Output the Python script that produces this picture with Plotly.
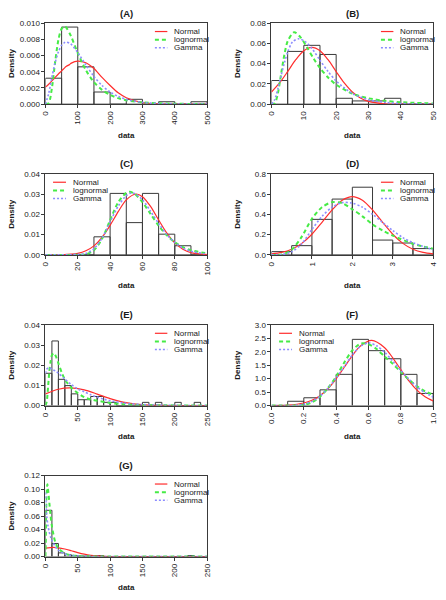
import plotly.graph_objects as go

# ---------------- DATA ----------------
# Panel A
A_bin_left = [0, 50, 100, 150, 200, 250, 300, 350, 400, 450]
A_density = [0.0032, 0.0095, 0.0046, 0.0015, 0.0, 0.0006, 0.0, 0.0003, 0.0, 0.0003]
A_x = [0, 10, 20, 30, 40, 50, 60, 65, 75, 80, 100, 125, 150, 175, 200, 225, 250, 300, 350, 400, 450, 500]
A_norm = [0.0021, 0.00246, 0.00287, 0.0033, 0.00372, 0.0041, 0.0045, 0.00466, 0.0049, 0.00506, 0.0053,
          0.0051, 0.0044, 0.0033, 0.0023, 0.0014, 0.0008, 0.0002, 0.00004, 0.000005, 0.0, 0.0]
A_lnorm = [0.0, 0.00013, 0.002, 0.0052, 0.0079, 0.0093, 0.0096, 0.0094, 0.0087, 0.0083, 0.0063,
           0.0042, 0.0027, 0.00176, 0.00114, 0.00074, 0.00049, 0.00022, 0.000108, 0.000054, 0.00003, 0.000015]
A_gamma = [0.0, 0.00132, 0.00333, 0.00513, 0.00644, 0.00725, 0.00761, 0.00765, 0.0075, 0.00736, 0.00637,
           0.00483, 0.00342, 0.0023, 0.0015, 0.00095, 0.00059, 0.00022, 0.000075, 0.000025, 0.000008, 0.000003]
A_xticks = [0, 100, 200, 300, 400, 500]
A_yticks = [0.000, 0.002, 0.004, 0.006, 0.008, 0.010]

# Panel B
B_bin_left = [0, 5, 10, 15, 20, 25, 30, 35, 40, 45]
B_density = [0.0233, 0.052, 0.058, 0.049, 0.0058, 0.0032, 0.0032, 0.0058, 0.0, 0.0]
B_norm_x = [0, 2.5, 5, 7.5, 10, 12.5, 15, 17.5, 20, 22.5, 25, 27.5, 30, 35, 40, 50]
B_norm_y = [0.012, 0.0209, 0.0321, 0.0438, 0.0527, 0.056, 0.0527, 0.0438, 0.0321, 0.0209, 0.012,
            0.0061, 0.0027, 0.00038, 0.00003, 0.0]
B_lnorm_x = [0, 1, 2, 3, 4, 5, 7, 9, 11, 13, 15, 17.5, 20, 25, 30, 35, 40, 50]
B_lnorm_y = [0.0, 0.0008, 0.011, 0.0304, 0.049, 0.062, 0.071, 0.0659, 0.0558, 0.0451, 0.0357, 0.0263,
             0.0192, 0.0104, 0.0058, 0.0033, 0.00195, 0.00073]
B_gamma_x = [0, 1, 2, 3, 4, 5, 6.5, 8.5, 10.5, 12.5, 15, 17.5, 20, 25, 30, 35, 40, 50]
B_gamma_y = [0.0, 0.0045, 0.0155, 0.0285, 0.0408, 0.0512, 0.0614, 0.0645, 0.0615, 0.0549, 0.0433, 0.0322,
             0.0229, 0.0105, 0.0044, 0.0018, 0.00067, 0.0001]
B_xticks = [0, 10, 20, 30, 40, 50]
B_yticks = [0.00, 0.02, 0.04, 0.06, 0.08]

# Panel C
C_bin_left = [0, 10, 20, 30, 40, 50, 60, 70, 80, 90]
C_density = [0.0, 0.0, 0.0, 0.0089, 0.0303, 0.0159, 0.0303, 0.0102, 0.0045, 0.0]
C_norm_x = [0, 10, 20, 25, 30, 35, 40, 45, 50, 56, 60, 65, 70, 75, 80, 85, 90, 100]
C_norm_y = [0.000004, 0.000076, 0.00077, 0.002, 0.00444, 0.0086, 0.01455, 0.0213, 0.0271, 0.030, 0.0287,
            0.0239, 0.0172, 0.0108, 0.0059, 0.0028, 0.00114, 0.00013]
C_lnorm_x = [0, 20, 25, 30, 35, 40, 45, 50, 52, 55, 60, 65, 70, 75, 80, 85, 90, 100]
C_lnorm_y = [0.0, 0.00001, 0.00029, 0.00224, 0.0079, 0.0171, 0.0259, 0.0306, 0.0311, 0.0302, 0.026,
             0.0202, 0.01446, 0.00972, 0.0062, 0.0038, 0.00228, 0.00076]
C_gamma_x = [0, 20, 25, 30, 35, 40, 45, 50, 53, 55, 60, 65, 70, 75, 80, 85, 90, 100]
C_gamma_y = [0.0, 0.0002, 0.0007, 0.003, 0.0082, 0.0163, 0.024, 0.0292, 0.0305, 0.0303, 0.0272, 0.0215,
             0.0155, 0.0101, 0.0061, 0.0034, 0.0018, 0.0004]
C_xticks = [0, 20, 40, 60, 80, 100]
C_yticks = [0.00, 0.01, 0.02, 0.03, 0.04]

# Panel D
D_bin_left = [0, 0.5, 1, 1.5, 2, 2.5, 3, 3.5]
D_density = [0.032, 0.091, 0.35, 0.55, 0.667, 0.146, 0.117, 0.062]
D_norm_x = [0, 0.25, 0.5, 0.75, 1, 1.25, 1.5, 1.75, 2, 2.25, 2.5, 2.75, 3, 3.25, 3.5, 3.75, 4]
D_norm_y = [0.009, 0.0239, 0.0556, 0.1135, 0.2036, 0.321, 0.443, 0.539, 0.575, 0.539, 0.443, 0.321,
            0.2036, 0.1135, 0.0556, 0.0239, 0.009]
D_lnorm_x = [0, 0.25, 0.5, 0.75, 1, 1.25, 1.5, 1.75, 2, 2.25, 2.5, 2.75, 3, 3.5, 4]
D_lnorm_y = [0.0, 0.003, 0.05, 0.18, 0.356, 0.47, 0.52, 0.51, 0.45, 0.38, 0.30, 0.24, 0.19, 0.11, 0.06]
D_gamma_x = [0, 0.25, 0.5, 0.75, 1, 1.25, 1.5, 1.75, 2, 2.25, 2.5, 2.75, 3, 3.25, 3.5, 4]
D_gamma_y = [0.0, 0.003, 0.03, 0.11, 0.25, 0.38, 0.47, 0.515, 0.51, 0.47, 0.40, 0.32, 0.24, 0.17, 0.12, 0.05]
D_xticks = [0, 1, 2, 3, 4]
D_yticks = [0.0, 0.2, 0.4, 0.6, 0.8]

# Panel E
E_bin_left = [0, 10, 20, 30, 40, 50, 60, 70, 80, 90, 100, 110, 120, 130, 140, 150, 160, 170, 180, 190,
              200, 210, 220, 230, 240]
E_density = [0.016, 0.032, 0.013, 0.0099, 0.0058, 0.0029, 0.0029, 0.0045, 0.0045, 0.0016, 0.0016, 0.0,
             0.0, 0.0, 0.0, 0.0016, 0.0, 0.0016, 0.0, 0.0, 0.0016, 0.0, 0.0, 0.0016, 0.0]
E_norm_x = [0, 20, 38, 60, 80, 100, 120, 140, 160, 180, 200, 250]
E_norm_y = [0.0058, 0.0081, 0.0088, 0.0078, 0.0057, 0.00345, 0.0017, 0.0007, 0.00023, 0.00006, 0.0, 0.0]
E_lnorm_x = [0, 2, 4, 6, 8, 10, 13, 16, 20, 25, 30, 40, 50, 60, 70, 80, 100, 120, 150, 200, 250]
E_lnorm_y = [0.0, 0.002, 0.009, 0.017, 0.022, 0.025, 0.026, 0.0245, 0.021, 0.0165, 0.013, 0.0088,
             0.0062, 0.0042, 0.003, 0.0024, 0.0013, 0.0007, 0.0003, 0.0001, 0.0]
E_gamma_x = [0, 2, 5, 10, 15, 20, 30, 40, 50, 60, 70, 80, 90, 100, 120, 150, 200, 250]
E_gamma_y = [0.016, 0.018, 0.0188, 0.018, 0.0172, 0.016, 0.0132, 0.0104, 0.0082, 0.0068, 0.0054, 0.0042,
             0.0032, 0.0024, 0.0013, 0.0005, 0.0001, 0.0]
E_xticks = [0, 50, 100, 150, 200, 250]
E_yticks = [0.00, 0.01, 0.02, 0.03, 0.04]

# Panel F
F_bin_left = [0, 0.1, 0.2, 0.3, 0.4, 0.5, 0.6, 0.7, 0.8, 0.9]
F_density = [0.0, 0.16, 0.29, 0.585, 1.16, 2.46, 2.04, 1.74, 1.16, 0.45]
F_norm_x = [0, 0.1, 0.2, 0.25, 0.3, 0.35, 0.4, 0.45, 0.5, 0.55, 0.62, 0.7, 0.75, 0.8, 0.85, 0.9, 0.95, 1.0]
F_norm_y = [0.002, 0.0169, 0.0948, 0.196, 0.369, 0.634, 0.995, 1.423, 1.858, 2.21, 2.42, 2.151, 1.774,
            1.335, 0.917, 0.574, 0.327, 0.171]
F_lnorm_x = [0, 0.1, 0.15, 0.2, 0.25, 0.3, 0.35, 0.4, 0.45, 0.5, 0.55, 0.6, 0.65, 0.7, 0.75, 0.8, 0.85,
             0.9, 0.95, 1.0]
F_lnorm_y = [0.0, 0.0, 0.002, 0.03, 0.12, 0.33, 0.66, 1.08, 1.6, 2.05, 2.3, 2.28, 2.1, 1.82, 1.55, 1.25,
             0.97, 0.72, 0.53, 0.40]
F_gamma_x = [0, 0.1, 0.15, 0.2, 0.25, 0.3, 0.35, 0.4, 0.45, 0.5, 0.55, 0.6, 0.65, 0.7, 0.75, 0.8, 0.85,
             0.9, 0.95, 1.0]
F_gamma_y = [0.0, 0.001, 0.01, 0.05, 0.15, 0.35, 0.65, 1.02, 1.45, 1.88, 2.2, 2.33, 2.22, 1.98, 1.65, 1.3,
             0.98, 0.7, 0.48, 0.32]
F_xticks = [0.0, 0.2, 0.4, 0.6, 0.8, 1.0]
F_yticks = [0.0, 0.5, 1.0, 1.5, 2.0, 2.5, 3.0]

# Panel G
G_bin_left = [0, 10, 20, 30, 40, 50, 60, 70, 80, 90, 100, 110, 120, 130, 140, 150, 160, 170, 180, 190,
              200, 210, 220, 230, 240]
G_density = [0.0685, 0.0194, 0.0055, 0.0028, 0.0015, 0.0008, 0.0008, 0.0015, 0.0015, 0.0, 0.0, 0.0,
             0.0, 0.0, 0.0, 0.0, 0.0, 0.0, 0.0, 0.0, 0.0, 0.0, 0.0015, 0.0, 0.0]
G_norm_x = [0, 12, 20, 30, 40, 50, 60, 70, 80, 90, 100, 120, 250]
G_norm_y = [0.0124, 0.0135, 0.013, 0.0112, 0.0086, 0.0059, 0.0036, 0.00195, 0.00095, 0.00041, 0.00016,
            0.00001, 0.0]
G_lnorm_x = [0, 0.5, 1, 2, 3, 4, 6, 8, 10, 15, 20, 30, 40, 50, 70, 100, 250]
G_lnorm_y = [0.0, 0.02, 0.06, 0.1, 0.107, 0.1, 0.08, 0.06, 0.045, 0.022, 0.012, 0.0045, 0.002, 0.001,
             0.0003, 0.0001, 0.0]
G_gamma_x = [0, 0.5, 1, 2, 4, 6, 8, 10, 15, 20, 30, 40, 50, 70, 100, 250]
G_gamma_y = [0.095, 0.09, 0.075, 0.06, 0.045, 0.036, 0.029, 0.024, 0.015, 0.0095, 0.004, 0.0018, 0.0008,
             0.0002, 0.0, 0.0]
G_xticks = [0, 50, 100, 150, 200, 250]
G_yticks = [0.00, 0.02, 0.04, 0.06, 0.08, 0.10, 0.12]

panel_titles = ["(A)", "(B)", "(C)", "(D)", "(E)", "(F)", "(G)"]
legend_labels = ["Normal", "lognormal", "Gamma"]
x_title = "data"
y_title = "Density"

# ---------------- STYLE ----------------
FONT = "Liberation Sans, Arial, Helvetica, sans-serif"
TXT = "#1a1a1a"
BAR_LINE = "#3a3a3a"
STYLES = [
    dict(color="rgb(255,45,45)", width=1.2, dash="solid"),
    dict(color="rgb(70,235,70)", width=2.0, dash="4px,3px"),
    dict(color="rgb(140,140,255)", width=1.6, dash="2px,2px"),
]

W, H = 446, 600
col_px = [(42.3, 207.3), (273.0, 438.0)]
row_px = [(19.3, 101.7), (172.3, 254.7), (325.7, 407.7), (478.7, 561.0)]

panels = [
    dict(bins=A_bin_left, bw=50, dens=A_density,
         curves=[(A_x, A_norm), (A_x, A_lnorm), (A_x, A_gamma)],
         xr=[0, 500], xt=A_xticks, xfmt="d", yr=[0, 0.010], yt=A_yticks, yfmt=".3f", leg="right", pos=(0, 0)),
    dict(bins=B_bin_left, bw=5, dens=B_density,
         curves=[(B_norm_x, B_norm_y), (B_lnorm_x, B_lnorm_y), (B_gamma_x, B_gamma_y)],
         xr=[0, 50], xt=B_xticks, xfmt="d", yr=[0, 0.08], yt=B_yticks, yfmt=".2f", leg="right", pos=(0, 1)),
    dict(bins=C_bin_left, bw=10, dens=C_density,
         curves=[(C_norm_x, C_norm_y), (C_lnorm_x, C_lnorm_y), (C_gamma_x, C_gamma_y)],
         xr=[0, 100], xt=C_xticks, xfmt="d", yr=[0, 0.04], yt=C_yticks, yfmt=".2f", leg="left", pos=(1, 0)),
    dict(bins=D_bin_left, bw=0.5, dens=D_density,
         curves=[(D_norm_x, D_norm_y), (D_lnorm_x, D_lnorm_y), (D_gamma_x, D_gamma_y)],
         xr=[0, 4], xt=D_xticks, xfmt="d", yr=[0, 0.8], yt=D_yticks, yfmt=".1f", leg="right", pos=(1, 1)),
    dict(bins=E_bin_left, bw=10, dens=E_density,
         curves=[(E_norm_x, E_norm_y), (E_lnorm_x, E_lnorm_y), (E_gamma_x, E_gamma_y)],
         xr=[0, 250], xt=E_xticks, xfmt="d", yr=[0, 0.04], yt=E_yticks, yfmt=".2f", leg="right", pos=(2, 0)),
    dict(bins=F_bin_left, bw=0.1, dens=F_density,
         curves=[(F_norm_x, F_norm_y), (F_lnorm_x, F_lnorm_y), (F_gamma_x, F_gamma_y)],
         xr=[0, 1], xt=F_xticks, xfmt=".1f", yr=[0, 3.0], yt=F_yticks, yfmt=".1f", leg="left", pos=(2, 1)),
    dict(bins=G_bin_left, bw=10, dens=G_density,
         curves=[(G_norm_x, G_norm_y), (G_lnorm_x, G_lnorm_y), (G_gamma_x, G_gamma_y)],
         xr=[0, 250], xt=G_xticks, xfmt="d", yr=[0, 0.12], yt=G_yticks, yfmt=".2f", leg="right", pos=(3, 0)),
]

fig = go.Figure()
annotations = []
shapes = []
layout_axes = {}

leg_rows = [0.895, 0.793, 0.695]
leg_geo = {"right": (0.677, 0.754, 0.785), "left": (0.047, 0.127, 0.158)}

for i, p in enumerate(panels):
    n = i + 1
    xid = "x" if n == 1 else f"x{n}"
    yid = "y" if n == 1 else f"y{n}"
    r, c = p["pos"]
    x0p, x1p = col_px[c]
    y0p, y1p = row_px[r]
    xdom = [x0p / W, x1p / W]
    ydom = [1 - y1p / H, 1 - y0p / H]

    fig.add_trace(go.Bar(
        x=p["bins"], y=p["dens"], width=p["bw"], offset=0,
        marker=dict(color="rgba(0,0,0,0)", line=dict(color=BAR_LINE, width=1)),
        xaxis=xid, yaxis=yid, showlegend=False, hoverinfo="skip"))
    for (cx, cy), st in zip(p["curves"], STYLES):
        fig.add_trace(go.Scatter(
            x=cx, y=cy, mode="lines", line=dict(shape="spline", smoothing=0.8, **st),
            xaxis=xid, yaxis=yid, showlegend=False, hoverinfo="skip"))

    common = dict(showline=True, mirror=True, linecolor=BAR_LINE, linewidth=1, showgrid=False,
                  zeroline=False, ticks="outside", ticklen=3, tickwidth=1, tickcolor=BAR_LINE,
                  tickfont=dict(family=FONT, size=8, color=TXT), fixedrange=True)
    layout_axes["xaxis" if n == 1 else f"xaxis{n}"] = dict(
        domain=xdom, anchor=yid, range=p["xr"], tickmode="array", tickvals=p["xt"],
        tickformat=p["xfmt"], tickangle=-90, **common)
    layout_axes["yaxis" if n == 1 else f"yaxis{n}"] = dict(
        domain=ydom, anchor=xid, range=p["yr"], tickmode="array", tickvals=p["yt"],
        tickformat=p["yfmt"], **common)

    xref = f"{xid} domain"
    yref = f"{yid} domain"
    annotations.append(dict(text=f"<b>{panel_titles[i]}</b>", xref=xref, yref=yref, x=0.5, y=1,
                            yshift=10, xanchor="center", yanchor="middle", showarrow=False,
                            font=dict(family=FONT, size=9.5, color=TXT)))
    annotations.append(dict(text=f"<b>{y_title}</b>", xref=xref, yref=yref, x=0, y=0.5, xshift=-34,
                            textangle=-90, xanchor="center", yanchor="middle", showarrow=False,
                            font=dict(family=FONT, size=8, color=TXT)))
    annotations.append(dict(text=f"<b>{x_title}</b>", xref=xref, yref=yref, x=0.5, y=0, yshift=-31,
                            xanchor="center", yanchor="middle", showarrow=False,
                            font=dict(family=FONT, size=8, color=TXT)))

    lx0, lx1, tx = leg_geo[p["leg"]]
    for ry, lab, st in zip(leg_rows, legend_labels, STYLES):
        shapes.append(dict(type="line", xref=xref, yref=yref, x0=lx0, x1=lx1, y0=ry, y1=ry,
                           line=dict(color=st["color"], width=st["width"], dash=st["dash"])))
        annotations.append(dict(text=lab, xref=xref, yref=yref, x=tx, y=ry, xanchor="left",
                                yanchor="middle", showarrow=False,
                                font=dict(family=FONT, size=8, color=TXT)))

fig.update_layout(
    width=W, height=H, margin=dict(l=0, r=0, t=0, b=0),
    paper_bgcolor="white", plot_bgcolor="white",
    barmode="overlay", showlegend=False, hovermode=False,
    annotations=annotations, shapes=shapes,
    font=dict(family=FONT, size=8, color=TXT),
    **layout_axes)

# remove the default page margin so the 446x600 figure sits at the window origin
fig.write_html("out.html",
               config={"displayModeBar": False, "staticPlot": True},
               post_script="document.body.style.margin='0';document.body.style.overflow='hidden';")
